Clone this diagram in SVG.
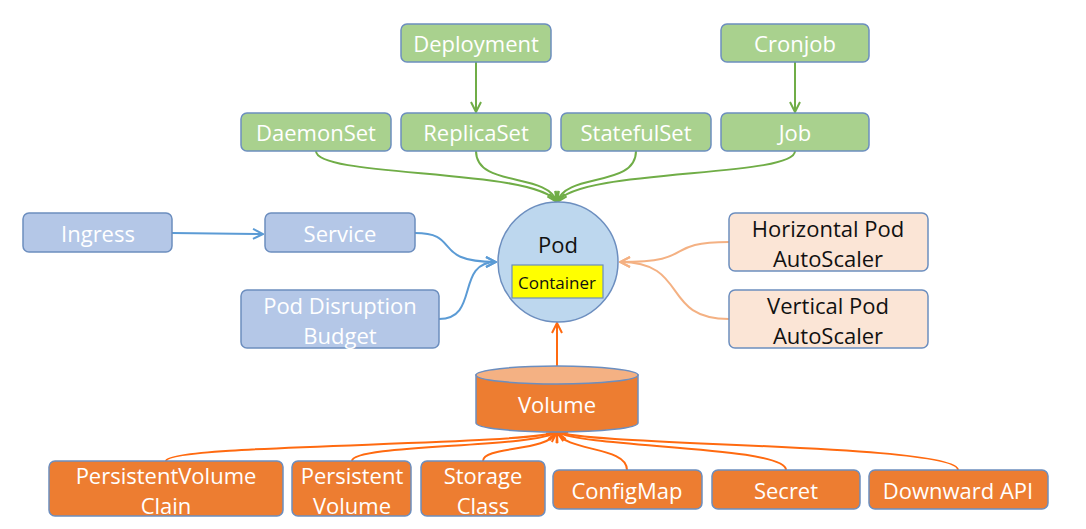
<svg xmlns="http://www.w3.org/2000/svg" width="1086" height="529" viewBox="0 0 1086 529">
<defs>
<style>
text{font-family:"Open Sans","Liberation Sans",sans-serif;font-size:22px;text-anchor:middle;dominant-baseline:central}
rect.n{stroke:#6C8EBF;stroke-width:1.5}
.g rect{fill:#A9D18E}
.b rect{fill:#B4C7E7}
.p rect{fill:#FBE5D6}
.o rect{fill:#ED7D31}
.g text,.b text,.o text{fill:#fff}
.p text{fill:#111}
.c{fill:none;stroke-width:2}
.cg{stroke:#70AD47}
.cb{stroke:#5B9BD5}
.cp{stroke:#F4B183}
.co{stroke:#FF6A10}
</style>
<marker id="mg" viewBox="0 0 12 12" refX="11" refY="6" markerWidth="12" markerHeight="12" markerUnits="userSpaceOnUse" orient="auto"><path d="M1,1 L11,6 L1,11" fill="none" stroke="#70AD47" stroke-width="2"/></marker>
<marker id="mb" viewBox="0 0 12 12" refX="11" refY="6" markerWidth="12" markerHeight="12" markerUnits="userSpaceOnUse" orient="auto"><path d="M1,1 L11,6 L1,11" fill="none" stroke="#5B9BD5" stroke-width="2"/></marker>
<marker id="mp" viewBox="0 0 12 12" refX="11" refY="6" markerWidth="12" markerHeight="12" markerUnits="userSpaceOnUse" orient="auto"><path d="M1,1 L11,6 L1,11" fill="none" stroke="#F4B183" stroke-width="2"/></marker>
<marker id="mo" viewBox="0 0 12 12" refX="11" refY="6" markerWidth="12" markerHeight="12" markerUnits="userSpaceOnUse" orient="auto"><path d="M1,1 L11,6 L1,11" fill="none" stroke="#FF6A10" stroke-width="2"/></marker>
</defs>
<rect width="1086" height="529" fill="#fff"/>

<g id="connectors">
<path class="c cg" d="M476,62 L476,112" marker-end="url(#mg)"/>
<path class="c cg" d="M795,62 L795,112" marker-end="url(#mg)"/>
<path class="c cg" d="M316,151 C316,178 535,168 557,202" marker-end="url(#mg)"/>
<path class="c cg" d="M476,151 C476,188 548,172 557,202" marker-end="url(#mg)"/>
<path class="c cg" d="M636,151 C636,188 566,172 557,202" marker-end="url(#mg)"/>
<path class="c cg" d="M795,151 C795,178 579,168 557,202" marker-end="url(#mg)"/>
<path class="c cb" d="M172,233 L263,234" marker-end="url(#mb)"/>
<path class="c cb" d="M415,233 C462,233 430,262 496,262" marker-end="url(#mb)"/>
<path class="c cb" d="M439,319 C480,319 455,262 496,262" marker-end="url(#mb)"/>
<path class="c cp" d="M729,242 C660,242 700,262 620,262" marker-end="url(#mp)"/>
<path class="c cp" d="M729,319 C660,319 690,262 620,262" marker-end="url(#mp)"/>
<path class="c co" d="M557,366 L557,323" marker-end="url(#mo)"/>
<path class="c co" d="M166,461 C166,444 520,446 557,432" marker-end="url(#mo)"/>
<path class="c co" d="M352,461 C352,444 535,448 557,432" marker-end="url(#mo)"/>
<path class="c co" d="M483,461 C483,446 548,452 557,432" marker-end="url(#mo)"/>
<path class="c co" d="M627,470 C627,446 566,452 557,432" marker-end="url(#mo)"/>
<path class="c co" d="M786,470 C786,446 585,448 557,432" marker-end="url(#mo)"/>
<path class="c co" d="M958,470 C958,444 595,446 557,432" marker-end="url(#mo)"/>
</g>

<g id="deployment" class="g"><rect class="n" x="401" y="24" width="150" height="38" rx="6"/><text x="476" y="43">Deployment</text></g>
<g id="cronjob" class="g"><rect class="n" x="721" y="24" width="148" height="38" rx="6"/><text x="795" y="43">Cronjob</text></g>
<g id="daemonset" class="g"><rect class="n" x="241" y="113" width="150" height="38" rx="6"/><text x="316" y="132">DaemonSet</text></g>
<g id="replicaset" class="g"><rect class="n" x="401" y="113" width="150" height="38" rx="6"/><text x="476" y="132">ReplicaSet</text></g>
<g id="statefulset" class="g"><rect class="n" x="561" y="113" width="150" height="38" rx="6"/><text x="636" y="132">StatefulSet</text></g>
<g id="job" class="g"><rect class="n" x="721" y="113" width="148" height="38" rx="6"/><text x="795" y="132">Job</text></g>

<g id="ingress" class="b"><rect class="n" x="23" y="213" width="149" height="39" rx="6"/><text x="98" y="233">Ingress</text></g>
<g id="service" class="b"><rect class="n" x="265" y="213" width="150" height="39" rx="6"/><text x="340" y="233">Service</text></g>
<g id="pdb" class="b"><rect class="n" x="241" y="290" width="198" height="58" rx="6"/><text x="340" y="305">Pod Disruption</text><text x="340" y="335">Budget</text></g>

<g id="pod"><circle cx="558" cy="262" r="60" fill="#BDD7EE" stroke="#6C8EBF" stroke-width="1.5"/><text x="558" y="244" fill="#111">Pod</text>
<rect x="512" y="265" width="91" height="33" fill="#FFFF00" stroke="#6C8EBF" stroke-width="1.2"/><text x="557" y="282" fill="#111" style="font-size:17px">Container</text></g>

<g id="hpa" class="p"><rect class="n" x="729" y="213" width="199" height="58" rx="6"/><text x="828" y="228">Horizontal Pod</text><text x="828" y="258">AutoScaler</text></g>
<g id="vpa" class="p"><rect class="n" x="729" y="290" width="199" height="58" rx="6"/><text x="828" y="305">Vertical Pod</text><text x="828" y="335">AutoScaler</text></g>

<g id="volume"><path d="M476,375 L476,423 A81,9 0 0 0 638,423 L638,375 Z" fill="#ED7D31" stroke="#6C8EBF" stroke-width="1.5"/><ellipse cx="557" cy="375" rx="81" ry="9" fill="#F4B183" stroke="#6C8EBF" stroke-width="1.5"/><text x="557" y="404" fill="#fff">Volume</text></g>

<g id="pvc" class="o"><rect class="n" x="49" y="461" width="234" height="55" rx="6"/><text x="166" y="475">PersistentVolume</text><text x="166" y="505">Clain</text></g>
<g id="pv" class="o"><rect class="n" x="292" y="461" width="119" height="55" rx="6"/><text x="352" y="475">Persistent</text><text x="352" y="505">Volume</text></g>
<g id="storageclass" class="o"><rect class="n" x="421" y="461" width="124" height="55" rx="6"/><text x="483" y="475">Storage</text><text x="483" y="505">Class</text></g>
<g id="configmap" class="o"><rect class="n" x="553" y="470" width="149" height="39" rx="6"/><text x="627" y="490">ConfigMap</text></g>
<g id="secret" class="o"><rect class="n" x="712" y="470" width="148" height="39" rx="6"/><text x="786" y="490">Secret</text></g>
<g id="downward" class="o"><rect class="n" x="869" y="470" width="179" height="39" rx="6"/><text x="958" y="490">Downward API</text></g>
</svg>
